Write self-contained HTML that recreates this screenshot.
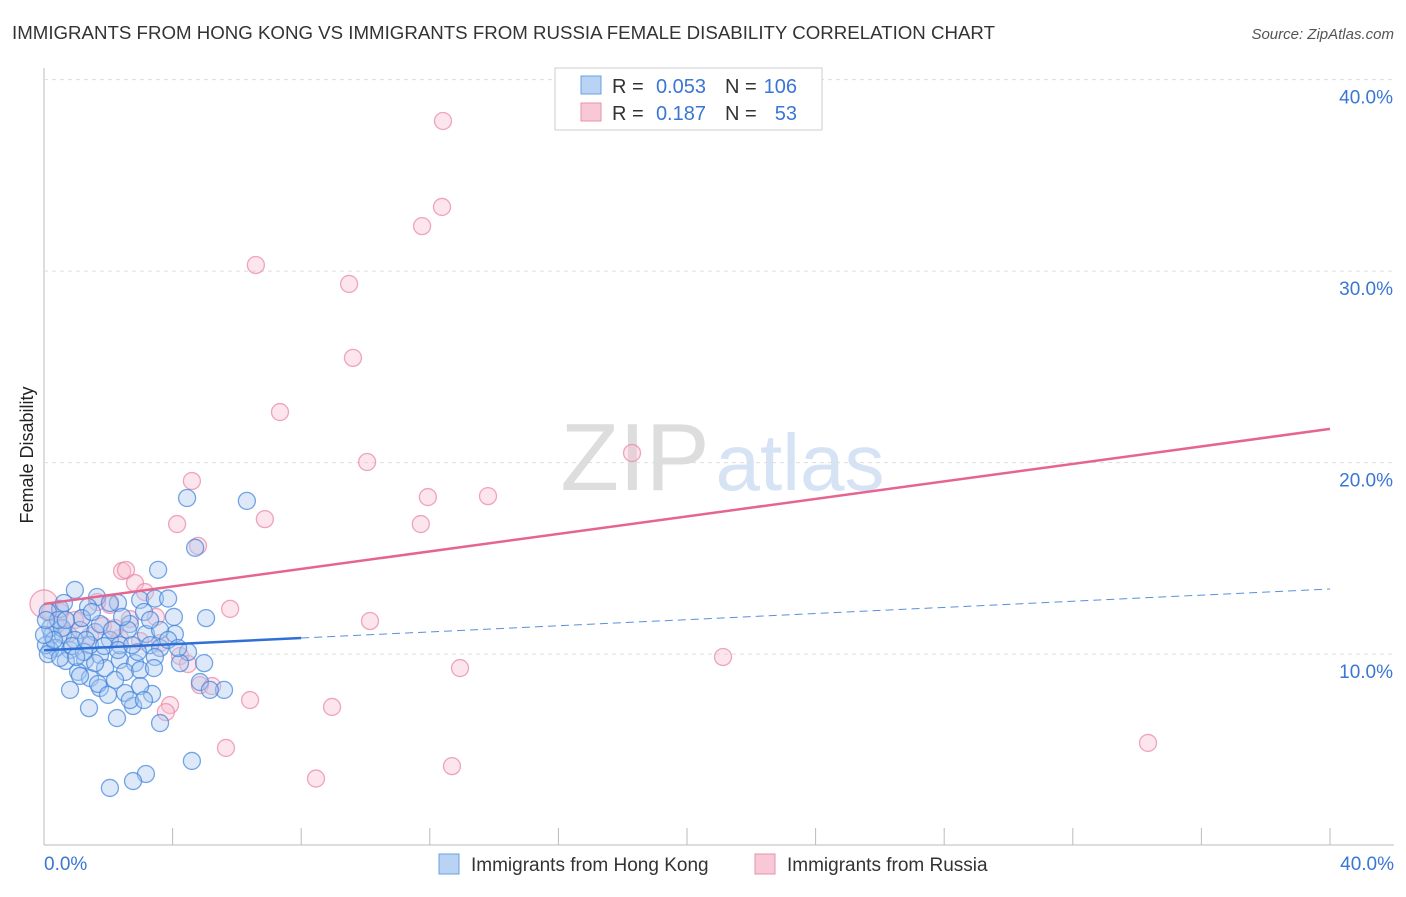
<!DOCTYPE html>
<html><head><meta charset="utf-8"><style>
body{margin:0;background:#fff;font-family:"Liberation Sans",sans-serif;}
svg text{font-family:"Liberation Sans",sans-serif;}
</style></head><body>
<svg id="c" width="1406" height="892">
<text x="12" y="39" font-size="18" fill="#333" textLength="983" lengthAdjust="spacingAndGlyphs">IMMIGRANTS FROM HONG KONG VS IMMIGRANTS FROM RUSSIA FEMALE DISABILITY CORRELATION CHART</text>
<text x="1394" y="39" font-size="15" fill="#555" text-anchor="end" font-style="italic">Source: ZipAtlas.com</text>
<text x="33" y="455" font-size="18" fill="#222" text-anchor="middle" transform="rotate(-90 33 455)">Female Disability</text>
<g><text x="635" y="490" font-size="96" font-family="Liberation Serif" fill="#ddd" text-anchor="middle">ZIP</text><text x="800" y="490" font-size="80" fill="#d5e3f4" text-anchor="middle">atlas</text></g>
<g id="grid"></g><g id="marks"></g>
<g>
<rect x="555" y="68" width="267" height="62" fill="#fff" stroke="#ccc"/>
<rect x="581" y="76" width="20" height="18" fill="#b8d3f3" stroke="#6a9fe0"/>
<rect x="581" y="103" width="20" height="18" fill="#f8c8d6" stroke="#e890ab"/>
<text x="612" y="93" font-size="20" fill="#333">R =</text><text x="706" y="93" font-size="20" fill="#3a76d4" text-anchor="end">0.053</text>
<text x="725" y="93" font-size="20" fill="#333">N =</text><text x="797" y="93" font-size="20" fill="#3a76d4" text-anchor="end">106</text>
<text x="612" y="120" font-size="20" fill="#333">R =</text><text x="706" y="120" font-size="20" fill="#3a76d4" text-anchor="end">0.187</text>
<text x="725" y="120" font-size="20" fill="#333">N =</text><text x="797" y="120" font-size="20" fill="#3a76d4" text-anchor="end">53</text>
</g>
<g>
<rect x="439" y="854" width="20" height="20" fill="#b8d3f3" stroke="#6a9fe0"/>
<text x="471" y="871" font-size="19" fill="#333">Immigrants from Hong Kong</text>
<rect x="755" y="854" width="20" height="20" fill="#f8c8d6" stroke="#e890ab"/>
<text x="787" y="871" font-size="19" fill="#333">Immigrants from Russia</text>
</g>
</svg>
<script>
const xTicks=[0,4,8,12,16,20,24,28,32,36,40];
const yTicks=[10,20,30,40];
const blueX=[4.45,6.31,4.7,3.55,0.96,1.65,1.37,2.3,2.99,3.45,3.86,4.04,5.04,0.5,0.12,2.05,3.11,0.25,0.59,1.12,1.59,2.67,3.17,4.07,3.3,3.61,4.48,0.37,0.81,1.28,1.74,2.36,2.83,3.45,4.98,0.19,0.68,1.06,1.43,1.9,2.52,2.99,4.85,5.6,0.81,1.74,2.52,3.36,1.4,2.27,2.77,3.61,4.6,3.17,2.77,2.05,0.19,0.56,0.96,1.43,2.05,0.06,0.44,1.18,1.74,2.36,2.92,1.59,2.21,2.99,0.12,0.5,0.87,1.24,1.87,2.61,3.61,4.23,5.16,2.67,1.68,0.68,1.49,2.12,3.3,0.31,1.0,1.31,2.3,3.86,0,0.06,0.62,2.43,2.74,3.42,4.17,1.99,3.11,1.12];
const blueY=[18.15,18.0,15.55,14.4,13.35,12.98,12.46,12.67,12.83,12.9,12.9,11.94,11.88,12.36,12.2,12.67,12.2,11.0,11.0,11.26,11.15,11.57,11.05,11.05,10.47,10.32,10.11,10.32,10.21,9.69,9.95,9.69,9.53,9.85,9.53,10.21,9.64,9.07,8.75,9.27,9.07,9.17,8.54,8.13,8.13,8.23,7.97,7.92,7.18,6.66,7.29,6.4,4.42,3.74,3.37,3.01,11.36,11.36,10.74,10.47,10.74,10.47,11.78,11.88,11.57,10.47,10.11,9.53,8.65,8.33,10.0,9.8,10.42,10.11,10.42,11.26,11.26,9.53,8.13,7.6,8.44,11.78,12.2,11.26,11.78,10.74,9.85,10.74,10.21,10.74,11.0,11.78,12.67,11.94,10.47,9.27,10.32,7.87,7.6,8.86];
const pinkX=[12.41,12.38,11.76,6.59,9.49,9.61,7.34,10.05,18.29,4.6,11.94,13.81,4.14,6.87,11.72,4.79,2.43,2.55,2.83,3.14,2.05,5.79,10.14,3.48,2.67,1.65,1.18,0.5,0,0.19,0.75,1.43,1.83,2.36,2.99,3.61,4.23,4.48,4.85,5.23,6.41,3.92,3.79,8.96,12.94,21.12,5.66,8.46,12.69,34.34,0.37,0.96,2.21];
const pinkY=[37.84,33.35,32.35,30.32,29.33,25.47,22.64,20.03,20.5,19.04,18.2,18.25,16.79,17.05,16.79,15.65,14.34,14.39,13.71,13.24,12.57,12.36,11.73,11.94,11.83,12.72,11.88,12.2,12.62,12.2,11.05,10.95,11.47,10.84,10.68,10.58,9.9,9.48,8.38,8.33,7.6,7.34,6.97,7.24,9.27,9.85,5.1,3.5,4.15,5.36,11.5,11.78,11.36];
const pinkLine=[12.62,21.76];
const blueLine=[10.2,13.4];
const NS='http://www.w3.org/2000/svg';
const X0=44,X1=1330,Y0=845.6,PY=19.15;
const sx=v=>X0+(X1-X0)*v/40, sy=v=>Y0-PY*v;
function el(t,a,p){const e=document.createElementNS(NS,t);for(const k in a)e.setAttribute(k,a[k]);p.appendChild(e);return e;}
const g=document.getElementById('grid'),m=document.getElementById('marks');
let ax=el('line',{x1:X0,y1:68,x2:X0,y2:845,stroke:'#bbb'},g);


let bx=el('line',{x1:X0,y1:845,x2:1394,y2:845,stroke:'#bbb'},g);


xTicks.forEach(v=>{const t=el('line',{x1:sx(v),y1:828,x2:sx(v),y2:845,stroke:'#bbb'},g);

});
yTicks.forEach(v=>{const l=el('line',{x1:X0,y1:sy(v),x2:1394,y2:sy(v),stroke:'#ddd','stroke-dasharray':'4,4'},g);


const t=el('text',{x:1393,y:sy(v)+24,'font-size':19,fill:'#3a76d4','text-anchor':'end'},g);t.textContent=v.toFixed(1)+'%';

});
[[0,44,'start'],[40,1394,'end']].forEach(([v,x,a])=>{const t=el('text',{x:x,y:870,'font-size':19,fill:'#3a76d4','text-anchor':a},g);t.textContent=v.toFixed(1)+'%';

});
pinkX.forEach((x,i)=>{const c=el('circle',{cx:sx(x),cy:sy(pinkY[i]),r:(x===0?14:8.5),fill:'rgba(248,190,208,0.4)',stroke:'rgba(232,130,165,0.7)','stroke-width':1.3},m);

});
blueX.forEach((x,i)=>{const c=el('circle',{cx:sx(x),cy:sy(blueY[i]),r:8.5,fill:'rgba(170,200,240,0.4)',stroke:'rgba(60,130,220,0.7)','stroke-width':1.3},m);

});
const bEnd=blueLine[0]+(blueLine[1]-blueLine[0])*8/40;
let l1=el('line',{x1:sx(8),y1:sy(bEnd),x2:sx(40),y2:sy(blueLine[1]),stroke:'#5b8fd8','stroke-width':1,'stroke-dasharray':'8,5'},m);


let l2=el('line',{x1:sx(0),y1:sy(blueLine[0]),x2:sx(8),y2:sy(bEnd),stroke:'#2f6fd6','stroke-width':2.5},m);


let l3=el('line',{x1:sx(0),y1:sy(pinkLine[0]),x2:sx(40),y2:sy(pinkLine[1]),stroke:'#e6658f','stroke-width':2.5},m);


</script>
</body></html>
